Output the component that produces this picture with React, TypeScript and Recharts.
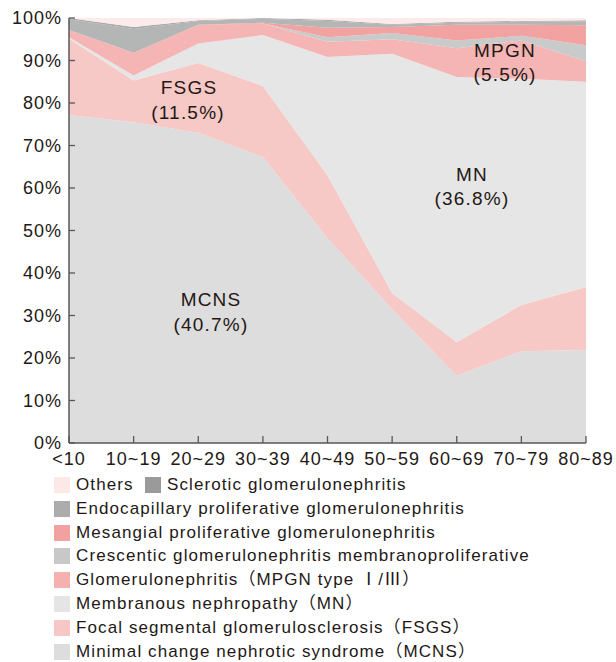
import React from 'react';
import { AreaChart, Area, XAxis, YAxis } from 'recharts';

const ageGroups = ['<10', '10~19', '20~29', '30~39', '40~49', '50~59', '60~69', '70~79', '80~89'];
const mcns = [77.2, 75.5, 73.0, 67.3, 48.2, 31.5, 15.8, 21.6, 21.9];
const fsgs = [17.9, 9.8, 16.4, 16.7, 14.8, 3.8, 7.9, 10.9, 14.8];
const mn = [0.4, 1.2, 4.6, 12.0, 27.8, 56.3, 62.4, 53.2, 48.3];
const mpgn = [1.7, 5.3, 4.4, 2.7, 3.6, 3.4, 6.8, 9.0, 4.8];
const crescentic = [0, 0, 0, 0, 1.1, 1.5, 1.8, 1.1, 3.8];
const mesangial = [0, 0, 0, 0.2, 2.2, 1.4, 3.7, 2.6, 4.7];
const endocapillary = [2.5, 5.6, 0.9, 0.9, 1.6, 0.5, 0.5, 0.7, 0.9];
const sclerotic = [0.3, 0.5, 0.2, 0.2, 0.3, 0.2, 0.2, 0.2, 0.3];
const others = [0, 2.1, 0.5, 0, 0.4, 1.4, 0.9, 0.7, 0.5];
const yTicks = [0, 10, 20, 30, 40, 50, 60, 70, 80, 90, 100];

const seriesKeys = ['mcns', 'fsgs', 'mn', 'mpgn', 'crescentic', 'mesangial', 'endocapillary', 'sclerotic', 'others'];
const seriesValues = [mcns, fsgs, mn, mpgn, crescentic, mesangial, endocapillary, sclerotic, others];
const seriesNames = [
  'Minimal change nephrotic syndrome（MCNS）',
  'Focal segmental glomerulosclerosis（FSGS）',
  'Membranous nephropathy（MN）',
  'Glomerulonephritis（MPGN type Ⅰ/Ⅲ）',
  'Crescentic glomerulonephritis membranoproliferative',
  'Mesangial proliferative glomerulonephritis',
  'Endocapillary proliferative glomerulonephritis',
  'Sclerotic glomerulonephritis',
  'Others',
];
const seriesColors = ['#dcdddc', '#f6c8c6', '#e6e6e6', '#f5b5b4', '#c9caca', '#f2a2a1', '#b4b5b5', '#a9aaaa', '#fdeaea'];
const legendSwatch = ['#dcdddc', '#f6c7c6', '#e5e5e5', '#f5b0b0', '#c8c8c8', '#f2a0a0', '#acacac', '#9a9a9a', '#fde8e8'];

const annotations = [
  { text: 'MCNS', x: 211, y: 300 },
  { text: '(40.7%)', x: 211, y: 325 },
  { text: 'FSGS', x: 189, y: 88 },
  { text: '(11.5%)', x: 188, y: 113 },
  { text: 'MN', x: 472, y: 175 },
  { text: '(36.8%)', x: 472, y: 199 },
  { text: 'MPGN', x: 505, y: 51 },
  { text: '(5.5%)', x: 505, y: 75 },
];

const data = ageGroups.map((age, i) => {
  const row: any = { age };
  seriesKeys.forEach((k, j) => {
    row[k] = seriesValues[j][i];
  });
  return row;
});

const FONT = "'Liberation Sans', Arial, 'Noto Sans CJK JP', sans-serif";
const AXIS = '#595757';
const TEXT = '#231815';

const XTick = (props: any) => {
  const { x, y, payload } = props;
  return (
    <g>
      <line x1={x} x2={x} y1={y} y2={y - 7} stroke={AXIS} strokeWidth={1.3} />
      <text x={x} y={y + 22} textAnchor="middle" fill={TEXT} fontSize={18} fontFamily={FONT} letterSpacing={1}>
        {payload.value}
      </text>
    </g>
  );
};

const YTick = (props: any) => {
  const { x, y, payload } = props;
  return (
    <g>
      <line x1={x} x2={x + 6} y1={y} y2={y} stroke={AXIS} strokeWidth={1.3} />
      <text x={x - 7} y={y} dy="0.36em" textAnchor="end" fill={TEXT} fontSize={18} fontFamily={FONT} letterSpacing={1}>
        {`${payload.value}%`}
      </text>
    </g>
  );
};

const legendRows: number[][] = [[8, 7], [6], [5], [4], [3], [2], [1], [0]];

export default function App() {
  return (
    <div style={{ position: 'absolute', left: 0, top: 0, width: 616, height: 662, overflow: 'hidden', background: '#fff', fontFamily: FONT }}>
      <AreaChart width={616} height={470} data={data} margin={{ top: 18, right: 30, left: 0, bottom: 0 }}>
        {seriesKeys.map((k, j) => (
          <Area
            key={k}
            type="linear"
            dataKey={k}
            name={seriesNames[j]}
            stackId="1"
            stroke="none"
            fill={seriesColors[j]}
            fillOpacity={1}
            isAnimationActive={false}
            dot={false}
            activeDot={false}
          />
        ))}
        <XAxis
          dataKey="age"
          height={27}
          tickSize={0}
          tickMargin={0}
          interval={0}
          axisLine={{ stroke: AXIS, strokeWidth: 1.5 }}
          tickLine={false}
          tick={<XTick />}
        />
        <YAxis
          width={69}
          domain={[0, 100]}
          ticks={yTicks}
          allowDataOverflow
          tickSize={0}
          tickMargin={0}
          axisLine={{ stroke: AXIS, strokeWidth: 1.5 }}
          tickLine={false}
          tick={<YTick />}
        />
      </AreaChart>
      {annotations.map((a, i) => (
        <div
          key={i}
          style={{
            position: 'absolute',
            left: a.x - 60,
            top: a.y - 12,
            width: 120,
            height: 24,
            lineHeight: '24px',
            textAlign: 'center',
            fontSize: 19,
            letterSpacing: 1.2,
            color: TEXT,
            whiteSpace: 'nowrap',
          }}
        >
          {a.text}
        </div>
      ))}
      {legendRows.map((row, r) => {
        const top = 477 + r * 23.8;
        return row.map((idx, c) => {
          const swLeft = c === 0 ? 54 : 145;
          return (
            <div key={`${r}-${c}`} style={{ position: 'absolute', left: swLeft, top, height: 16, display: 'flex', alignItems: 'center', whiteSpace: 'nowrap' }}>
              <div style={{ width: 16, height: 16, background: legendSwatch[idx], marginRight: 6 }} />
              <span style={{ fontSize: 17, letterSpacing: 1.1, color: TEXT, lineHeight: '16px' }}>{seriesNames[idx]}</span>
            </div>
          );
        });
      })}
    </div>
  );
}
